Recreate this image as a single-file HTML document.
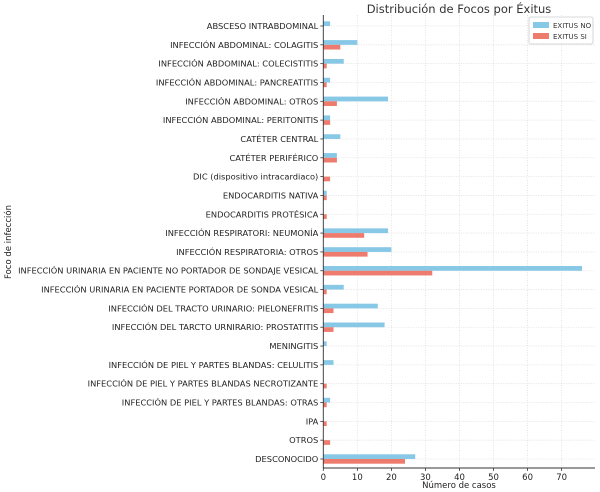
<!DOCTYPE html>
<html><head><meta charset="utf-8"><style>
html,body{margin:0;padding:0;background:#fff;}
svg{display:block;font-family:"DejaVu Sans","Liberation Sans",sans-serif;}
</style></head><body>
<svg id="chart" width="600" height="492"></svg>
<script>
const categories=["ABSCESO INTRABDOMINAL","INFECCIÓN ABDOMINAL: COLAGITIS","INFECCIÓN ABDOMINAL: COLECISTITIS","INFECCIÓN ABDOMINAL: PANCREATITIS","INFECCIÓN ABDOMINAL: OTROS","INFECCIÓN ABDOMINAL: PERITONITIS","CATÉTER CENTRAL","CATÉTER PERIFÉRICO","DIC (dispositivo intracardiaco)","ENDOCARDITIS NATIVA","ENDOCARDITIS PROTÉSICA","INFECCIÓN RESPIRATORI: NEUMONÍA","INFECCIÓN RESPIRATORIA: OTROS","INFECCIÓN URINARIA EN PACIENTE NO PORTADOR DE SONDAJE VESICAL","INFECCIÓN URINARIA EN PACIENTE PORTADOR DE SONDA VESICAL","INFECCIÓN DEL TRACTO URINARIO: PIELONEFRITIS","INFECCIÓN DEL TARCTO URNIRARIO: PROSTATITIS","MENINGITIS","INFECCIÓN DE PIEL Y PARTES BLANDAS: CELULITIS","INFECCIÓN DE PIEL Y PARTES BLANDAS NECROTIZANTE","INFECCIÓN DE PIEL Y PARTES BLANDAS: OTRAS","IPA","OTROS","DESCONOCIDO"];
const exitusNo=[2,10,6,2,19,2,5,4,0,1,0,19,20,76,6,16,18,1,3,0,2,0,0,27];
const exitusSi=[0,5,1,1,4,2,0,4,2,1,1,12,13,32,1,3,3,0,0,1,1,1,2,24];
const xTicks=[0,10,20,30,40,50,60,70];
const xMax=79.8;
const L=323.3,R=595,T=15,B=468,firstY=26,lastY=459;
const svg=document.getElementById('chart');
const NS='http://www.w3.org/2000/svg';
function mk(t,a,p){const e=document.createElementNS(NS,t);for(const k in a)e.setAttribute(k,a[k]);(p||svg).appendChild(e);return e;}
const xS=v=>L+v/xMax*(R-L);
const yS=i=>firstY+i*(lastY-firstY)/(categories.length-1);
const bh=(lastY-firstY)/(categories.length-1)*0.25;
const grid=mk('g',{});


xTicks.forEach(v=>{mk('line',{x1:xS(v),x2:xS(v),y1:T,y2:B,stroke:'#ddd','stroke-width':0.8,'stroke-dasharray':'1,1.5'},grid);});
categories.forEach((c,i)=>{mk('line',{x1:L,x2:R,y1:yS(i),y2:yS(i),stroke:'#ddd','stroke-width':0.8,'stroke-dasharray':'1,1.5'},grid);});
categories.forEach((c,i)=>{
  const y=yS(i);
  const b1=mk('rect',{x:L,y:y-bh,width:xS(exitusNo[i])-L,height:bh,fill:'#87c8e6'});
  
  
  const b2=mk('rect',{x:L,y:y,width:xS(exitusSi[i])-L,height:bh,fill:'#ee7c6e'});
  
  
  mk('line',{x1:L-3,x2:L,y1:y,y2:y,stroke:'#333','stroke-width':0.8});
  const t=mk('text',{x:L-5,y:y+3,'text-anchor':'end','font-size':8.3,fill:'#222'});
  t.textContent=c;
  
  
});
xTicks.forEach(v=>{
  mk('line',{x1:xS(v),x2:xS(v),y1:B,y2:B+3,stroke:'#333','stroke-width':0.8});
  const t=mk('text',{x:xS(v),y:B+12,'text-anchor':'middle','font-size':8.5,fill:'#222'});
  t.textContent=v;
  
  
});
mk('line',{x1:L,x2:L,y1:T,y2:B,stroke:'#333','stroke-width':0.9});
mk('line',{x1:L,x2:R,y1:B,y2:B,stroke:'#333','stroke-width':0.9});
</script>
<svg style="position:absolute;left:0;top:0" width="600" height="492">
<text x="459" y="13" text-anchor="middle" font-size="11.5" fill="#333" font-family="DejaVu Sans,sans-serif">Distribución de Focos por Éxitus</text>
<text x="459" y="488" text-anchor="middle" font-size="8.5" fill="#222" font-family="DejaVu Sans,sans-serif">Número de casos</text>
<text transform="translate(11,242) rotate(-90)" text-anchor="middle" font-size="8.5" fill="#222" font-family="DejaVu Sans,sans-serif">Foco de infección</text>
<g>
<rect x="529" y="17" width="64" height="27" fill="#fff" stroke="#ccc" stroke-width="0.8" rx="2"/>
<rect x="533" y="22" width="16" height="6" fill="#87c8e6"/>
<text x="553" y="28" font-size="7" fill="#333" font-family="DejaVu Sans,sans-serif">EXITUS NO</text>
<rect x="533" y="33" width="16" height="6" fill="#ee7c6e"/>
<text x="553" y="39" font-size="7" fill="#333" font-family="DejaVu Sans,sans-serif">EXITUS SI</text>
</g>
</svg>
</body></html>
